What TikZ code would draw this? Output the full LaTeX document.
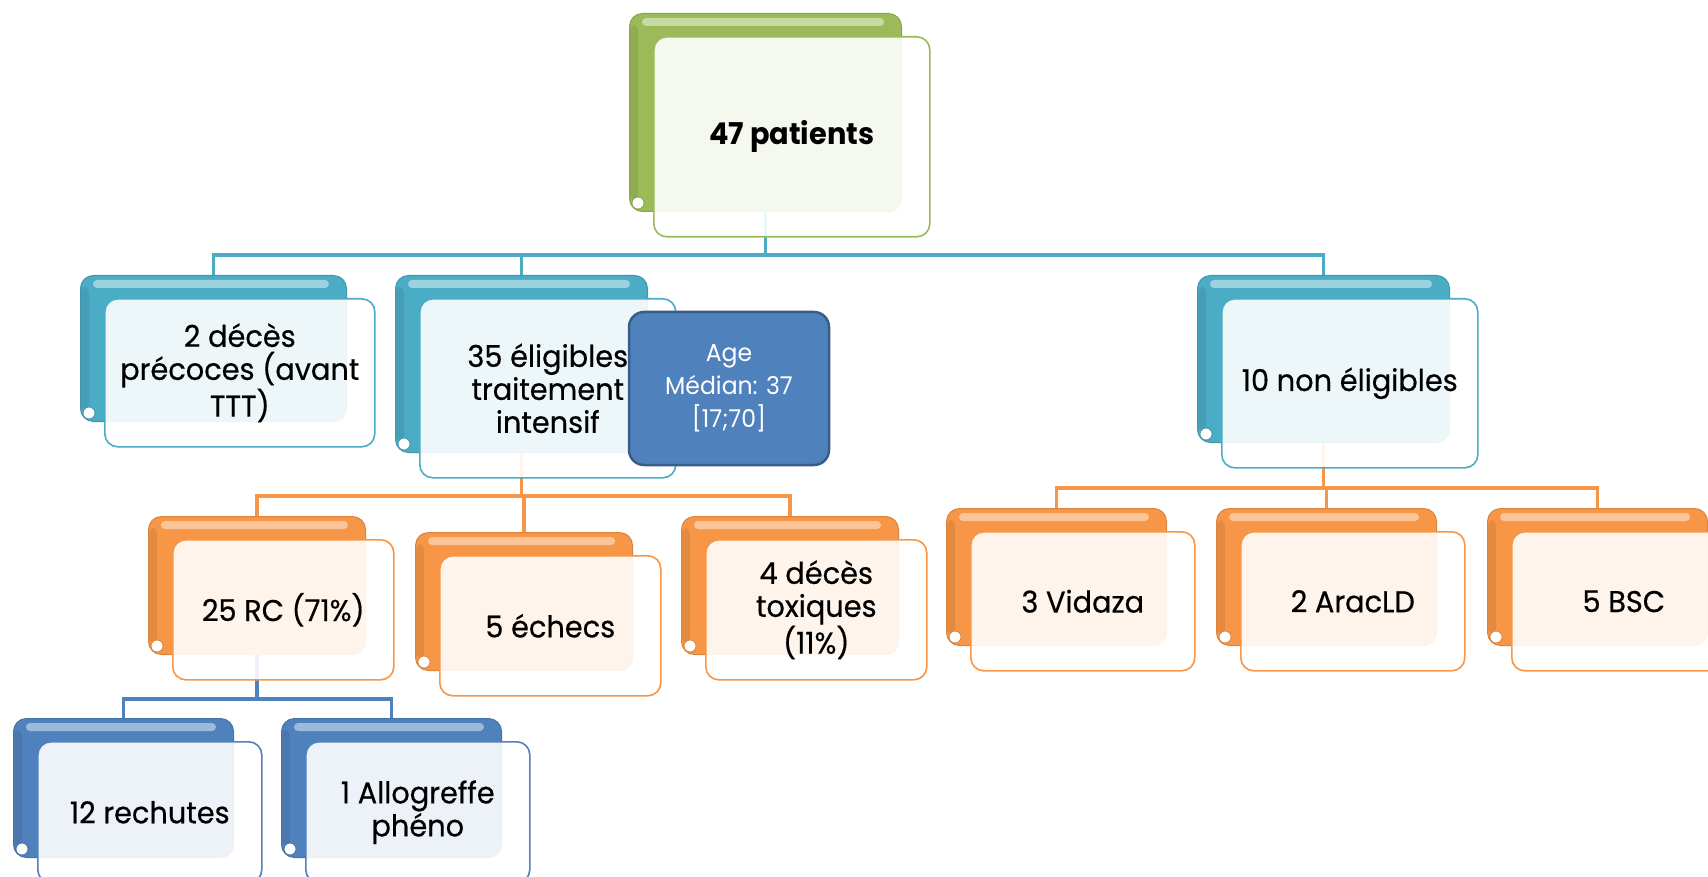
\documentclass[tikz,border=0pt]{standalone}
\usepackage{fontspec}
\setmainfont{Poppins}[FakeStretch=0.96]
\newfontfamily\boxfont{Poppins}[FakeStretch=0.96,FakeBold=0.5]
\usetikzlibrary{calc,backgrounds}
\definecolor{cgreen}{HTML}{9BBB59}
\definecolor{caqua}{HTML}{4BACC6}
\definecolor{corange}{HTML}{F79646}
\definecolor{cblue}{HTML}{4F81BD}
\definecolor{cblued}{HTML}{385D8A}
\tikzset{
  backbox/.style={rectangle, rounded corners=13, inner sep=0pt, line width=1},
  frontbox/.style={rectangle, rounded corners=13, fill=white, fill opacity=0.9, text opacity=1,
    line width=1.6, align=center, inner sep=0pt, font=\boxfont\fontsize{30}{33}\selectfont},
  conn/.style={line width=3.5},
  agebox/.style={rectangle, rounded corners=15, fill=cblue, draw=cblued, line width=2.5,
    minimum width=200, minimum height=153, text=white, align=center, inner sep=0pt,
    font=\fontsize{24.5}{33}\selectfont}
}
\newcommand\mkbox[7]{%
  \node[backbox, fill=#2, draw=#2!88!black, minimum width=#5, minimum height=#6, anchor=north west] (#1b) at (#3,#4) {};
  \fill[#2!92!black, rounded corners=6] ($(#1b.north west)+(1,12)$) rectangle ($(#1b.south west)+(9,-12)$);
  \fill[#2!55!white, rounded corners=4] ($(#1b.north west)+(13,5)$) rectangle ($(#1b.north east)+(-18,13)$);
  \filldraw[fill=white, draw=#2!88!black, line width=0.8] ($(#1b.south west)+(9,-9)$) circle (6);
  \node[frontbox, draw=#2, minimum width=#5+4, minimum height=#6+2, anchor=north west] (#1) at (#3+24,#4+23) {#7};
}
\begin{document}
\begin{tikzpicture}[x=1pt,y=-1pt]
\useasboundingbox (0,0) rectangle (1708,877);
\clip (0,0) rectangle (1708,877);
% boxes
\mkbox{g}{cgreen}{629}{13}{272}{198}{\normalfont\bfseries\fontsize{30}{33}\selectfont 47 patients}
\mkbox{a}{caqua}{80}{275}{266}{146}{2 décès\\précoces (avant\\TTT)}
\mkbox{b}{caqua}{395}{275}{252}{177}{35 éligibles\\traitement\\intensif}
\mkbox{c}{caqua}{1197}{275}{252}{167}{10 non éligibles}
\mkbox{d}{corange}{148}{516}{217}{138}{25 RC (71\%)}
\mkbox{e}{corange}{415}{532}{217}{138}{5 échecs}
\mkbox{f}{corange}{681}{516}{217}{138}{4 décès\\toxiques\\(11\%)}
\mkbox{h}{corange}{946}{508}{220}{137}{3 Vidaza}
\mkbox{i}{corange}{1216}{508}{220}{137}{2 AracLD}
\mkbox{j}{corange}{1487}{508}{220}{137}{5 BSC}
\mkbox{k}{cblue}{13}{718}{220}{139}{12 rechutes}
\mkbox{l}{cblue}{281}{718}{220}{139}{1 Allogreffe\\phéno}
\node[agebox] (age) at (729,388.5) {Age\\Médian: 37\\{}[17;70]};
% connectors
\coordinate (bus1) at (0,255);
\coordinate (bus2) at (0,496);
\coordinate (bus3) at (0,488);
\coordinate (bus4) at (0,699);
\begin{pgfonlayer}{background}
\fill[white] (0,0) rectangle (1708,877);
\draw[conn, caqua] (gb.south) -- (gb.south |- bus1);
\draw[conn, caqua] (ab.north) -- (ab.north |- bus1) -- (cb.north |- bus1) -- (cb.north);
\draw[conn, caqua] (bb.north) -- (bb.north |- bus1);
\draw[conn, corange] (bb.south) -- (bb.south |- bus2);
\draw[conn, corange] (db.north) -- (db.north |- bus2) -- (fb.north |- bus2) -- (fb.north);
\draw[conn, corange] (eb.north) -- (eb.north |- bus2);
\draw[conn, corange] (cb.south) -- (cb.south |- bus3);
\draw[conn, corange] (hb.north) -- (hb.north |- bus3) -- (jb.north |- bus3) -- (jb.north);
\draw[conn, corange] (ib.north) -- (ib.north |- bus3);
\draw[conn, cblue] (db.south) -- (db.south |- bus4);
\draw[conn, cblue] (kb.north) -- (kb.north |- bus4) -- (lb.north |- bus4) -- (lb.north);
\end{pgfonlayer}
\end{tikzpicture}
\end{document}
